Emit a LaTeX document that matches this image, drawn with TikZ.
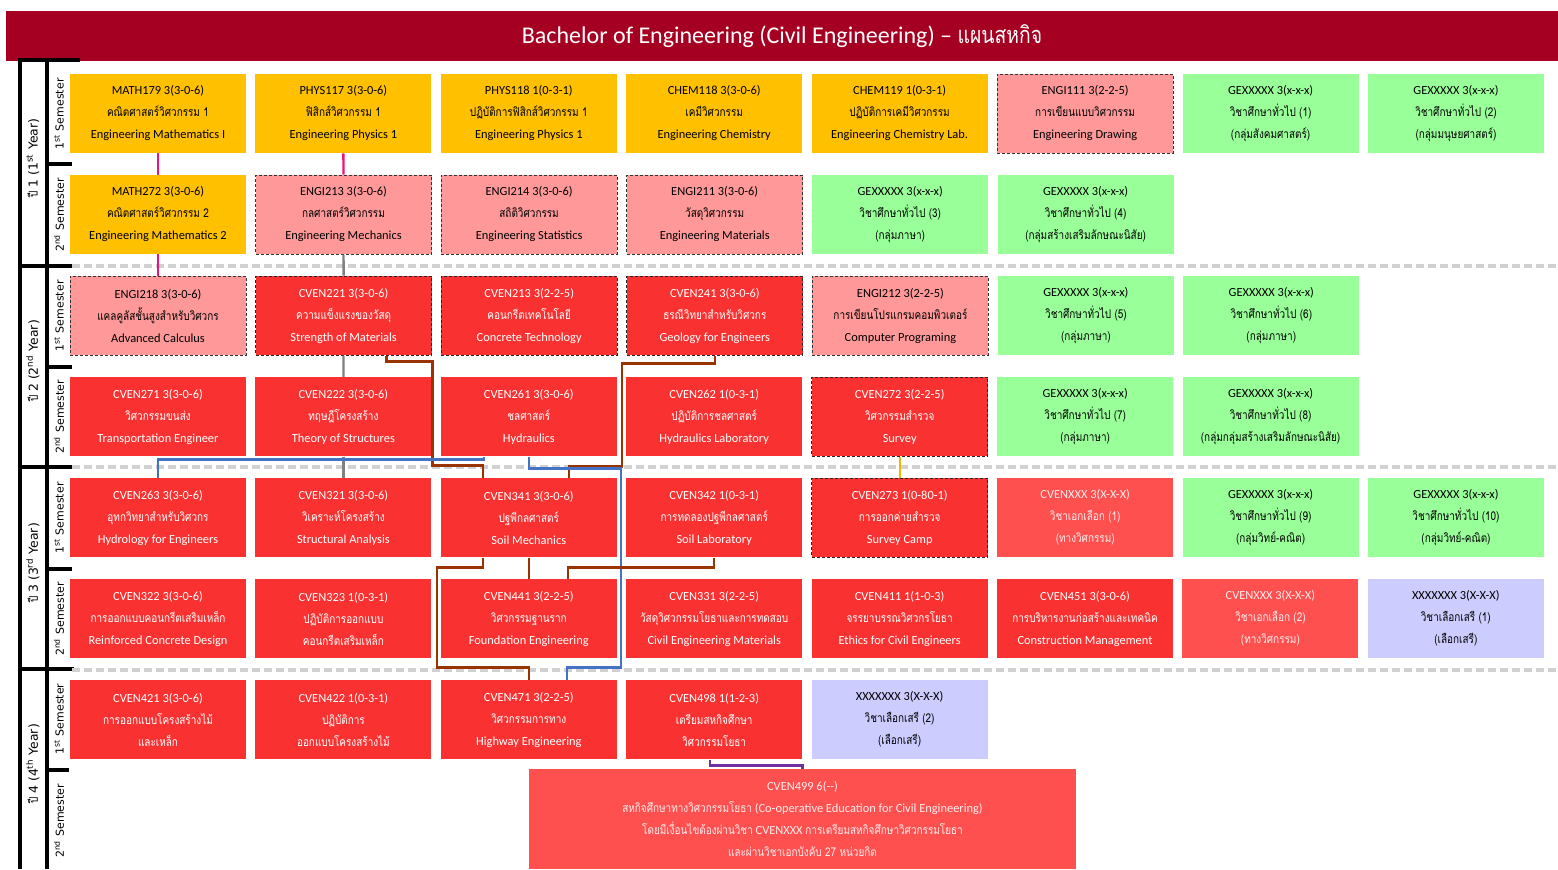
\documentclass[tikz,border=0pt]{standalone}
\usepackage{fontspec}
\setmainfont{Carlito}
\newfontfamily\thaifont[Script=Thai, Scale=0.98, FakeStretch=0.82]{Loma}
\newfontfamily\axisfont{DejaVu Sans}
\usepackage{tikz}
\usetikzlibrary{positioning,calc}
\definecolor{titlered}{HTML}{A50021}
\definecolor{coreorange}{HTML}{FFC000}
\definecolor{engipink}{HTML}{FF9999}
\definecolor{gegreen}{HTML}{99FF99}
\definecolor{cvenred}{HTML}{F93131}
\definecolor{electred}{HTML}{FF5050}
\definecolor{freelav}{HTML}{CCCCFF}
\definecolor{linkpink}{HTML}{F0137A}
\definecolor{linkbrown}{HTML}{993300}
\definecolor{linkblue}{HTML}{4472C4}
\definecolor{linkorange}{HTML}{F2B705}
\definecolor{linkpurple}{HTML}{7030A0}
\tikzset{
    planbox/.style={rectangle, align=center, minimum width=88pt, minimum height=39.5pt, inner sep=1pt, font=\fontsize{6.2}{11}\selectfont},
    mathcourse/.style={planbox, fill=coreorange},
    engicourse/.style={planbox, fill=engipink, draw=black!80, line width=0.5pt, dash pattern=on 1.5pt off 1pt},
    gecourse/.style={planbox, fill=gegreen},
    cvencourse/.style={planbox, fill=cvenred, text=white},
    cvendashed/.style={cvencourse, draw=black!85, line width=0.5pt, dash pattern=on 1.5pt off 1pt},
    electcourse/.style={planbox, fill=electred, text=white!92!red},
    freecourse/.style={planbox, fill=freelav},
    titlebar/.style={rectangle, fill=titlered, text=white, minimum width=776pt, minimum height=25pt, font=\fontsize{12}{13}\selectfont},
    yearlabel/.style={rotate=90, font=\axisfont\fontsize{6.2}{7}\selectfont},
    semlabel/.style={rotate=90, font=\axisfont\fontsize{5.5}{7}\selectfont},
    axisline/.style={draw=black, line width=1.6pt},
    rowsep/.style={draw=black!18, line width=2pt, dash pattern=on 4pt off 2pt},
    planlink/.style={line width=1.2pt},
    pinklink/.style={planlink, draw=linkpink},
    graylink/.style={planlink, draw=black!50},
    brownlink/.style={planlink, draw=linkbrown},
    bluelink/.style={planlink, draw=linkblue},
    orangelink/.style={planlink, draw=linkorange},
    purplelink/.style={planlink, draw=linkpurple}
}

\begin{document}
\begin{tikzpicture}[x=0.5pt, y=-0.5pt, node distance=10.6pt and 4.3pt]
    \useasboundingbox (0,0) rectangle (1558,869);

    \node[titlebar] (title) at (782,36) {Bachelor of Engineering (Civil Engineering) -- {\thaifont แผนสหกิจ}};

    \draw[axisline] (18,60) -- (80,60);
    \draw[axisline] (20,60) -- (20,869);
    \draw[axisline] (47,60) -- (47,869);
    \draw[axisline] (20,266) -- (72,266);
    \draw[axisline] (20,467) -- (72,467);
    \draw[axisline] (18,669) -- (74,669);
    \draw[axisline] (47,164) -- (72,164);
    \draw[axisline] (47,367) -- (72,367);
    \draw[axisline] (47,569) -- (72,569);
    \draw[axisline] (47,770) -- (69,770);
    \draw[rowsep] (72,266) -- (1558,266);
    \draw[rowsep] (72,467) -- (1558,467);
    \draw[rowsep] (72,670) -- (1558,670);

    \node[yearlabel] (y1) at (33,158) {{\thaifont ปี} 1 (1\textsuperscript{st} Year)};
    \node[yearlabel] (y2) at (33,361) {{\thaifont ปี} 2 (2\textsuperscript{nd} Year)};
    \node[yearlabel] (y3) at (33,563) {{\thaifont ปี} 3 (3\textsuperscript{rd} Year)};
    \node[yearlabel] (y4) at (33,764) {{\thaifont ปี} 4 (4\textsuperscript{th} Year)};
    \node[semlabel] (s11) at (59,114) {1\textsuperscript{st} Semester};
    \node[semlabel] (s12) at (59,215) {2\textsuperscript{nd} Semester};
    \node[semlabel] (s21) at (59,316) {1\textsuperscript{st} Semester};
    \node[semlabel] (s22) at (59,417) {2\textsuperscript{nd} Semester};
    \node[semlabel] (s31) at (59,518) {1\textsuperscript{st} Semester};
    \node[semlabel] (s32) at (59,619) {2\textsuperscript{nd} Semester};
    \node[semlabel] (s41) at (59,719) {1\textsuperscript{st} Semester};
    \node[semlabel] (s42) at (59,821) {2\textsuperscript{nd} Semester};

    \node[mathcourse] (m179) at (158,113.5) {MATH179 3(3-0-6)\\{\thaifont คณิตศาสตร์วิศวกรรม 1}\\Engineering Mathematics I};
    \node[mathcourse, right=of m179] (p117) {PHYS117 3(3-0-6)\\{\thaifont ฟิสิกส์วิศวกรรม 1}\\Engineering Physics 1};
    \node[mathcourse, right=of p117] (p118) {PHYS118 1(0-3-1)\\{\thaifont ปฏิบัติการฟิสิกส์วิศวกรรม 1}\\Engineering Physics 1};
    \node[mathcourse, right=of p118] (ch118) {CHEM118 3(3-0-6)\\{\thaifont เคมีวิศวกรรม}\\Engineering Chemistry};
    \node[mathcourse, right=of ch118] (ch119) {CHEM119 1(0-3-1)\\{\thaifont ปฏิบัติการเคมีวิศวกรรม}\\Engineering Chemistry Lab.};
    \node[engicourse, right=of ch119] (e111) {ENGI111 3(2-2-5)\\{\thaifont การเขียนแบบวิศวกรรม}\\Engineering Drawing};
    \node[gecourse, right=of e111] (ge1) {GEXXXXX 3(x-x-x)\\{\thaifont วิชาศึกษาทั่วไป (1)}\\{\thaifont (กลุ่มสังคมศาสตร์)}};
    \node[gecourse, right=of ge1] (ge2) {GEXXXXX 3(x-x-x)\\{\thaifont วิชาศึกษาทั่วไป (2)}\\{\thaifont (กลุ่มมนุษยศาสตร์)}};

    \node[mathcourse, below=of m179] (m272) {MATH272 3(3-0-6)\\{\thaifont คณิตศาสตร์วิศวกรรม 2}\\Engineering Mathematics 2};
    \node[engicourse, right=of m272] (e213) {ENGI213 3(3-0-6)\\{\thaifont กลศาสตร์วิศวกรรม}\\Engineering Mechanics};
    \node[engicourse, right=of e213] (e214) {ENGI214 3(3-0-6)\\{\thaifont สถิติวิศวกรรม}\\Engineering Statistics};
    \node[engicourse, right=of e214] (e211) {ENGI211 3(3-0-6)\\{\thaifont วัสดุวิศวกรรม}\\Engineering Materials};
    \node[gecourse, right=of e211] (ge3) {GEXXXXX 3(x-x-x)\\{\thaifont วิชาศึกษาทั่วไป (3)}\\{\thaifont (กลุ่มภาษา)}};
    \node[gecourse, right=of ge3] (ge4) {GEXXXXX 3(x-x-x)\\{\thaifont วิชาศึกษาทั่วไป (4)}\\{\thaifont (กลุ่มสร้างเสริมลักษณะนิสัย)}};

    \node[engicourse, below=of m272] (e218) {ENGI218 3(3-0-6)\\{\thaifont แคลคูลัสชั้นสูงสำหรับวิศวกร}\\Advanced Calculus};
    \node[cvendashed, right=of e218] (c221) {CVEN221 3(3-0-6)\\{\thaifont ความแข็งแรงของวัสดุ}\\Strength of Materials};
    \node[cvendashed, right=of c221] (c213) {CVEN213 3(2-2-5)\\{\thaifont คอนกรีตเทคโนโลยี}\\Concrete Technology};
    \node[cvendashed, right=of c213] (c241) {CVEN241 3(3-0-6)\\{\thaifont ธรณีวิทยาสำหรับวิศวกร}\\Geology for Engineers};
    \node[engicourse, right=of c241] (e212) {ENGI212 3(2-2-5)\\{\thaifont การเขียนโปรแกรมคอมพิวเตอร์}\\Computer Programing};
    \node[gecourse, right=of e212] (ge5) {GEXXXXX 3(x-x-x)\\{\thaifont วิชาศึกษาทั่วไป (5)}\\{\thaifont (กลุ่มภาษา)}};
    \node[gecourse, right=of ge5] (ge6) {GEXXXXX 3(x-x-x)\\{\thaifont วิชาศึกษาทั่วไป (6)}\\{\thaifont (กลุ่มภาษา)}};

    \node[cvencourse, below=of e218] (c271) {CVEN271 3(3-0-6)\\{\thaifont วิศวกรรมขนส่ง}\\Transportation Engineer};
    \node[cvencourse, right=of c271] (c222) {CVEN222 3(3-0-6)\\{\thaifont ทฤษฎีโครงสร้าง}\\Theory of Structures};
    \node[cvencourse, right=of c222] (c261) {CVEN261 3(3-0-6)\\{\thaifont ชลศาสตร์}\\Hydraulics};
    \node[cvencourse, right=of c261] (c262) {CVEN262 1(0-3-1)\\{\thaifont ปฏิบัติการชลศาสตร์}\\Hydraulics Laboratory};
    \node[cvendashed, right=of c262] (c272) {CVEN272 3(2-2-5)\\{\thaifont วิศวกรรมสำรวจ}\\Survey};
    \node[gecourse, right=of c272] (ge7) {GEXXXXX 3(x-x-x)\\{\thaifont วิชาศึกษาทั่วไป (7)}\\{\thaifont (กลุ่มภาษา)}};
    \node[gecourse, right=of ge7] (ge8) {GEXXXXX 3(x-x-x)\\{\thaifont วิชาศึกษาทั่วไป (8)}\\{\thaifont (กลุ่มกลุ่มสร้างเสริมลักษณะนิสัย)}};

    \node[cvencourse, below=of c271] (c263) {CVEN263 3(3-0-6)\\{\thaifont อุทกวิทยาสำหรับวิศวกร}\\Hydrology for Engineers};
    \node[cvencourse, right=of c263] (c321) {CVEN321 3(3-0-6)\\{\thaifont วิเคราะห์โครงสร้าง}\\Structural Analysis};
    \node[cvencourse, right=of c321] (c341) {CVEN341 3(3-0-6)\\{\thaifont ปฐพีกลศาสตร์}\\Soil Mechanics};
    \node[cvencourse, right=of c341] (c342) {CVEN342 1(0-3-1)\\{\thaifont การทดลองปฐพีกลศาสตร์}\\Soil Laboratory};
    \node[cvendashed, right=of c342] (c273) {CVEN273 1(0-80-1)\\{\thaifont การออกค่ายสำรวจ}\\Survey Camp};
    \node[electcourse, right=of c273] (cx1) {CVENXXX 3(X-X-X)\\{\thaifont วิชาเอกเลือก (1)}\\{\thaifont (ทางวิศกรรม)}};
    \node[gecourse, right=of cx1] (ge9) {GEXXXXX 3(x-x-x)\\{\thaifont วิชาศึกษาทั่วไป (9)}\\{\thaifont (กลุ่มวิทย์-คณิต)}};
    \node[gecourse, right=of ge9] (ge10) {GEXXXXX 3(x-x-x)\\{\thaifont วิชาศึกษาทั่วไป (10)}\\{\thaifont (กลุ่มวิทย์-คณิต)}};

    \node[cvencourse, below=of c263] (c322) {CVEN322 3(3-0-6)\\{\thaifont การออกแบบคอนกรีตเสริมเหล็ก}\\Reinforced Concrete Design};
    \node[cvencourse, right=of c322] (c323) {CVEN323 1(0-3-1)\\{\thaifont ปฏิบัติการออกแบบ}\\{\thaifont คอนกรีตเสริมเหล็ก}};
    \node[cvencourse, right=of c323] (c441) {CVEN441 3(2-2-5)\\{\thaifont วิศวกรรมฐานราก}\\Foundation Engineering};
    \node[cvencourse, right=of c441] (c331) {CVEN331 3(2-2-5)\\{\thaifont วัสดุวิศวกรรมโยธาและการทดสอบ}\\Civil Engineering Materials};
    \node[cvencourse, right=of c331] (c411) {CVEN411 1(1-0-3)\\{\thaifont จรรยาบรรณวิศวกรโยธา}\\Ethics for Civil Engineers};
    \node[cvencourse, right=of c411] (c451) {CVEN451 3(3-0-6)\\{\thaifont การบริหารงานก่อสร้างและเทคนิค}\\Construction Management};
    \node[electcourse, right=of c451] (cx2) {CVENXXX 3(X-X-X)\\{\thaifont วิชาเอกเลือก (2)}\\{\thaifont (ทางวิศกรรม)}};
    \node[freecourse, right=of cx2] (fe1) {XXXXXXX 3(X-X-X)\\{\thaifont วิชาเลือกเสรี (1)}\\{\thaifont (เลือกเสรี)}};

    \node[cvencourse, below=of c322] (c421) {CVEN421 3(3-0-6)\\{\thaifont การออกแบบโครงสร้างไม้}\\{\thaifont และเหล็ก}};
    \node[cvencourse, right=of c421] (c422) {CVEN422 1(0-3-1)\\{\thaifont ปฏิบัติการ}\\{\thaifont ออกแบบโครงสร้างไม้}};
    \node[cvencourse, right=of c422] (c471) {CVEN471 3(2-2-5)\\{\thaifont วิศวกรรมการทาง}\\Highway Engineering};
    \node[cvencourse, right=of c471] (c498) {CVEN498 1(1-2-3)\\{\thaifont เตรียมสหกิจศึกษา}\\{\thaifont วิศวกรรมโยธา}};
    \node[freecourse, right=of c498] (fe2) {XXXXXXX 3(X-X-X)\\{\thaifont วิชาเลือกเสรี (2)}\\{\thaifont (เลือกเสรี)}};

    \node[electcourse, minimum width=273.5pt, minimum height=50pt] (c499) at (802.5,819) {CVEN499 6(-{}-)\\{\thaifont สหกิจศึกษาทางวิศวกรรมโยธา} (Co-operative Education for Civil Engineering)\\{\thaifont โดยมีเงื่อนไขต้องผ่านวิชา} CVENXXX {\thaifont การเตรียมสหกิจศึกษาวิศวกรรมโยธา}\\{\thaifont และผ่านวิชาเอกบังคับ 27 หน่วยกิต}};

    \draw[pinklink] (m179) -- (m272);
    \draw[pinklink] (m272) -- (e218);
    \draw[pinklink] (p117) -- (e213);
    \draw[graylink] (e213) -- (c221);
    \draw[graylink] (c221) -- (c222);
    \draw[graylink] (c222) -- (c321);
    \draw[brownlink] ($(c221.south)+(43,0)$) -- ++(0,6) -| ++(46,104) -| ($(c341.north)+(-46,0)$);
    \draw[brownlink] (c241.south) -- ++(0,8) -| ++(-93,103) -| ($(c341.north)+(40,0)$);
    \draw[bluelink] ($(c261.south)+(-45,0)$) -- ++(0,3) -| (c263.north);
    \draw[bluelink] (c261.south) -- ++(0,12) -| ++(92,199) -| ($(c471.north)+(38,0)$);
    \draw[brownlink] (c341) -- (c441);
    \draw[brownlink] ($(c341.south)+(-46,0)$) -- ++(0,10) -| ++(-46,100) -| (c471.north);
    \draw[brownlink] (c342.south) -- ++(0,10) -| ($(c441.north)+(39,0)$);
    \draw[orangelink] (c272) -- (c273);
    \draw[purplelink] ($(c498.south)+(-4,0)$) -- ++(0,6) -| (c499.north);
\end{tikzpicture}
\end{document}
